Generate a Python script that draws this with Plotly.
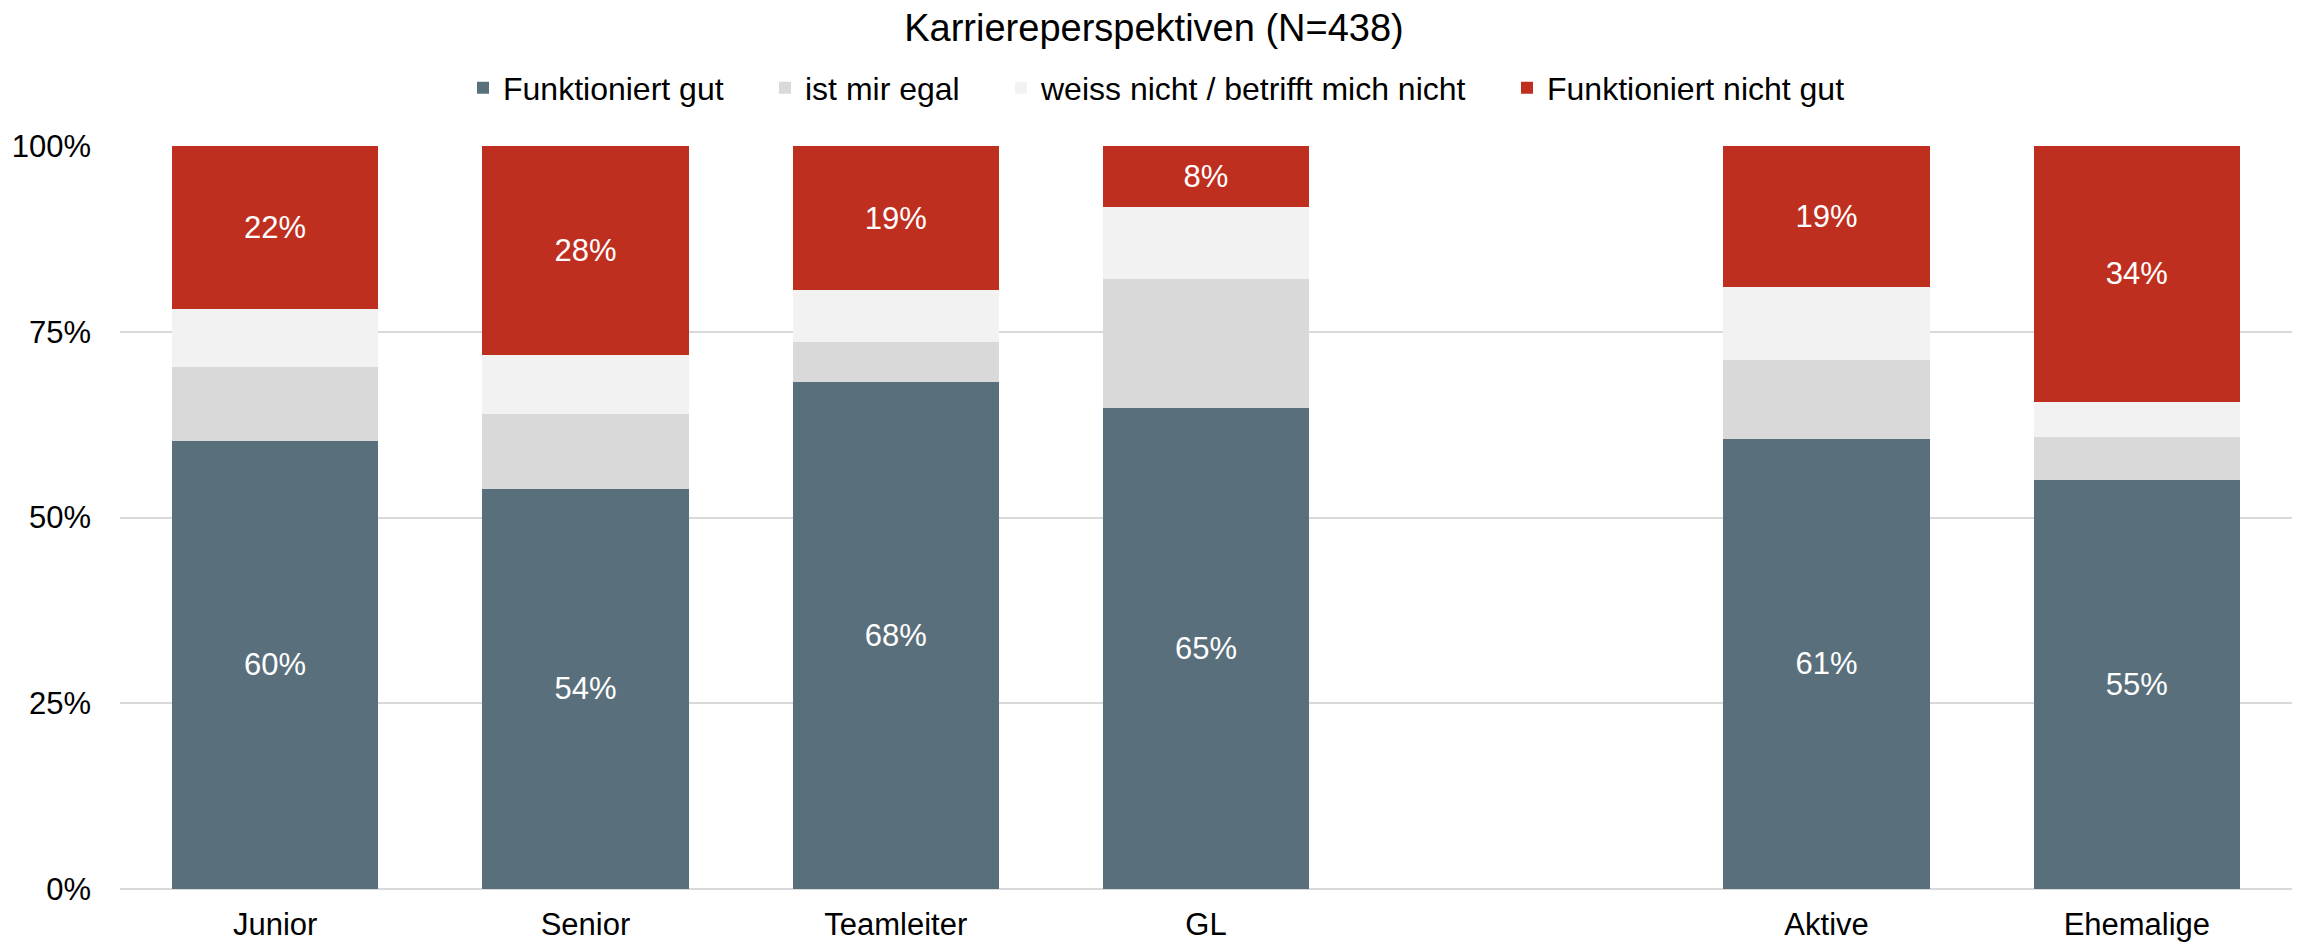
import plotly.graph_objects as go

categories = ["Junior", "Senior", "Teamleiter", "GL", "Aktive", "Ehemalige"]
series_names = ["Funktioniert gut", "ist mir egal", "weiss nicht / betrifft mich nicht", "Funktioniert nicht gut"]
funktioniert_gut = [60.3, 53.9, 68.3, 64.7, 60.6, 55.1]
ist_mir_egal = [9.9, 10.0, 5.3, 17.4, 10.6, 5.7]
weiss_nicht = [7.9, 8.0, 7.0, 9.7, 9.8, 4.8]
funktioniert_nicht_gut = [21.9, 28.1, 19.4, 8.2, 19.0, 34.4]
y_ticks = [0, 25, 50, 75, 100]
y_tick_labels = ["0%", "25%", "50%", "75%", "100%"]

colors = ["#5A6F7C", "#D9D9D9", "#F2F2F2", "#BF2F1F"]
show_text = [True, False, False, True]
series_values = [funktioniert_gut, ist_mir_egal, weiss_nicht, funktioniert_nicht_gut]

# leave one empty slot between the two groups (after "GL")
positions = [i if i < 4 else i + 1 for i in range(len(categories))]

FONT = "Liberation Sans, Arial, sans-serif"
OFF = 8  # default page body margin
W, H = 2300 - OFF, 946 - OFF

legend_ids = ["legend", "legend2", "legend3", "legend4"]
legend_text_x = [503, 805, 1041, 1547]  # page px where each legend text begins

fig = go.Figure()
for name, vals, col, st, lid in zip(series_names, series_values, colors, show_text, legend_ids):
    fig.add_trace(go.Bar(
        x=positions, y=vals, name=name, legend=lid, showlegend=True,
        marker=dict(color=col, line=dict(width=0)),
        width=0.665,
        texttemplate="%{y:.0f}%" if st else None,
        textposition="inside" if st else "none",
        insidetextanchor="middle",
        textfont=dict(color="white", size=31, family=FONT),
        textangle=0,
        hoverinfo="skip",
    ))

legends = {}
for lid, tx in zip(legend_ids, legend_text_x):
    legends[lid] = dict(orientation="h", x=(tx - OFF - 40) / W, xanchor="left", xref="container",
                        y=1 - 80 / H, yanchor="middle", yref="container",
                        font=dict(size=32, family=FONT, color="#000000"),
                        itemwidth=30, bgcolor="rgba(0,0,0,0)")

fig.update_layout(
    width=W, height=H,
    barmode="stack",
    showlegend=True,
    paper_bgcolor="white", plot_bgcolor="white",
    margin=dict(l=120 - OFF, r=8, t=146 - OFF, b=H - (889 - OFF), autoexpand=False),
    font=dict(family=FONT, color="#000000", size=31),
    title=dict(text="Karriereperspektiven (N=438)", x=0.5, xanchor="center",
               y=1 - 19.5 / H, yanchor="middle", yref="container",
               font=dict(size=38, family=FONT, color="#000000")),
    uniformtext=dict(mode=False),
    xaxis=dict(tickmode="array", tickvals=positions, ticktext=categories,
               range=[-0.5, 6.5], showgrid=False, showline=False, zeroline=False,
               ticks="", ticklabelstandoff=14, tickfont=dict(size=31), automargin=False),
    yaxis=dict(range=[0, 100], tickmode="array", tickvals=y_ticks, ticktext=y_tick_labels,
               showgrid=True, gridcolor="#D9D9D9", gridwidth=2,
               zeroline=True, zerolinecolor="#D9D9D9", zerolinewidth=2,
               showline=False, ticks="", ticklabelstandoff=28, tickfont=dict(size=31),
               automargin=False),
    **legends,
)

fig.write_html("out.html")
